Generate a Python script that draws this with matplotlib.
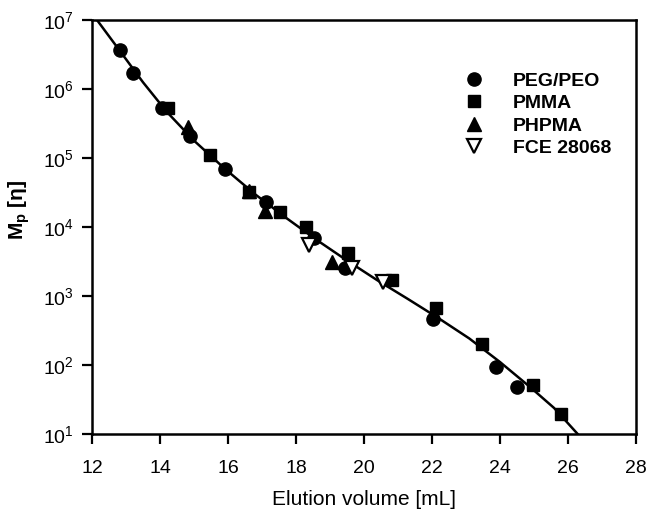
import numpy as np
import matplotlib
matplotlib.use('Agg')
import matplotlib.pyplot as plt

plt.rcParams['font.family'] = ['Liberation Sans', 'DejaVu Sans']
plt.rcParams['mathtext.fontset'] = 'custom'
plt.rcParams['mathtext.rm'] = 'Liberation Sans'
plt.rcParams['mathtext.it'] = 'Liberation Sans:italic'
plt.rcParams['mathtext.bf'] = 'Liberation Sans:bold'

# PEG/PEO standards
peg_x = [12.82, 13.21, 14.05, 14.88, 15.91, 17.12, 18.53, 19.44, 22.03, 23.88, 24.5]
peg_y = [3.7e6, 1.7e6, 5.3e5, 2.1e5, 6.9e4, 2.3e4, 6.9e3, 2.6e3, 465, 93, 48]

# PMMA standards
pmma_x = [14.24, 15.47, 16.62, 17.53, 18.29, 19.53, 20.82, 22.12, 23.47, 24.97, 25.79]
pmma_y = [5.3e5, 1.1e5, 3.2e4, 1.65e4, 1.0e4, 4.2e3, 1.7e3, 670, 201, 51, 20]

# PHPMA
phpma_x = [14.82, 16.62, 17.09, 19.06]
phpma_y = [2.8e5, 3.3e4, 1.7e4, 3.1e3]

# FCE 28068
fce_x = [18.38, 19.65, 20.56]
fce_y = [5.5e3, 2.6e3, 1.6e3]

# calibration curve
curve_x = [12.15, 12.8, 13.5, 14.2, 15.0, 15.9, 16.8, 17.7, 18.6, 19.5,
           20.4, 21.3, 22.2, 23.1, 24.0, 24.9, 25.6, 26.3]
curve_y = [1.0e7, 3.7e6, 1.26e6, 4.7e5, 1.8e5, 7.1e4, 3.0e4, 1.38e4, 6.6e3, 3.3e3,
           1.7e3, 910, 480, 245, 112, 48, 24, 10]

fig = plt.figure(figsize=(6.48, 5.17), dpi=100)
ax = fig.add_axes([0.142, 0.160, 0.839, 0.801])

ax.plot(curve_x, curve_y, color='black', lw=1.8, zorder=2)
ax.plot(peg_x, peg_y, 'o', color='black', ms=9.5, ls='none', label='PEG/PEO', zorder=3)
ax.plot(pmma_x, pmma_y, 's', color='black', ms=8.5, ls='none', label='PMMA', zorder=3)
ax.plot(phpma_x, phpma_y, '^', color='black', ms=9.5, ls='none', label='PHPMA', zorder=3)
ax.plot(fce_x, fce_y, 'v', mfc='white', mec='black', mew=1.6, ms=9.5, ls='none',
        label='FCE 28068', zorder=4)

ax.set_yscale('log')
ax.set_xlim(12, 28)
ax.set_ylim(10, 1e7)
ax.set_xticks(np.arange(12, 29, 2))
ax.set_yticks([1e1, 1e2, 1e3, 1e4, 1e5, 1e6, 1e7])
ax.minorticks_off()

for s in ax.spines.values():
    s.set_linewidth(1.8)
ax.tick_params(axis='both', which='major', direction='out', length=7.2, width=1.6,
               labelsize=14, top=False, right=False)
ax.tick_params(axis='x', pad=11)
ax.tick_params(axis='y', pad=6)

ax.set_xlabel('Elution volume [mL]', fontsize=15, labelpad=10)
ax.set_ylabel('M$_\\mathbf{p}$ [η]', fontsize=15, fontweight='bold')
ax.yaxis.set_label_coords(-0.110, 0.541)

leg = ax.legend(loc='upper left', bbox_to_anchor=(0.635, 0.917), frameon=False,
                prop={'size': 14, 'weight': 'bold'}, handletextpad=1.0,
                labelspacing=0.25, markerscale=1.0)

fig.savefig('out.png', dpi=100)
